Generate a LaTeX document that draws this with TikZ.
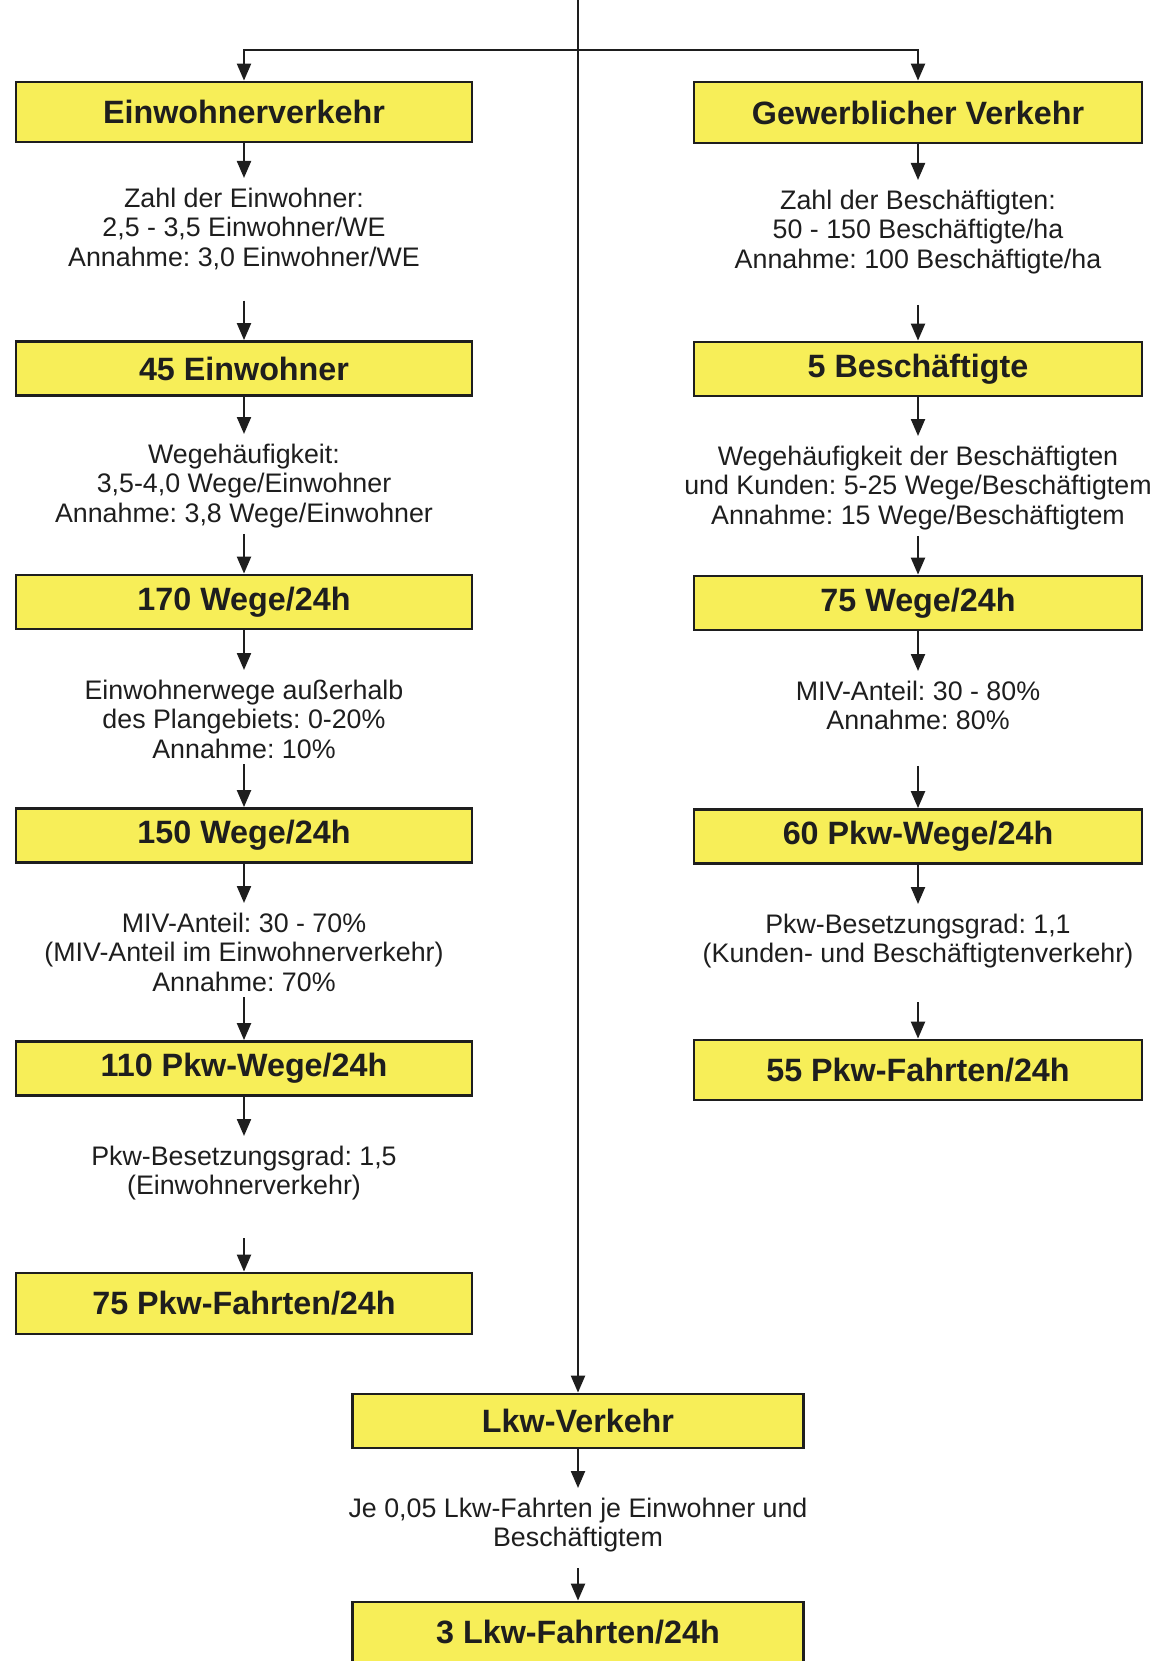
\documentclass[tikz,border=0pt]{standalone}
\usepackage{fontspec}
\setmainfont{Liberation Sans}
\usepackage{tikz}
\usetikzlibrary{arrows.meta}
\definecolor{gelb}{RGB}{247,238,88}
\definecolor{tinte}{RGB}{30,30,30}
\frenchspacing

\begin{document}
\begin{tikzpicture}
[x=1pt,y=-1pt]
\tikzset{
	kasten/.style = {draw=tinte, fill=gelb, line width=2.8pt, minimum height=54pt, inner sep=0,
		text=tinte, font=\fontsize{32.3}{36}\selectfont\bfseries},
	links/.style = {minimum width=456pt},
	rechts/.style = {minimum width=448pt},
	mitte/.style = {minimum width=451pt},
	info/.style = {align=center, anchor=north, inner sep=0, text=tinte,
		font=\fontsize{26.8}{29.7}\selectfont},
	pfeil/.style = {draw=tinte, line width=2.2pt, -{Triangle[length=17pt,width=14pt]}},
	hin/.style = {shorten >=9.5pt}
}
\useasboundingbox (0,0) rectangle (1159,1661);

\coordinate (oben) at (578,0);
\coordinate (knoten) at (578,50);

% Einwohnerverkehr
\node (ew) [kasten, links, minimum height=60pt] at (244,112) {Einwohnerverkehr};
\node (ew-1) [info] at (244,187.5) {Zahl der Einwohner:\\2,5 - 3,5 Einwohner/WE\\Annahme: 3,0 Einwohner/WE};
\node (ew-2) [kasten, links] at (244,368.5) {45 Einwohner};
\node (ew-3) [info] at (244,443.5) {Wegehäufigkeit:\\3,5-4,0 Wege/Einwohner\\Annahme: 3,8 Wege/Einwohner};
\node (ew-4) [kasten, links] at (244,602) {170 Wege/24h};
\node (ew-5) [info] at (244,679.5) {Einwohnerwege außerhalb\\des Plangebiets: 0-20\%\\Annahme: 10\%};
\node (ew-6) [kasten, links] at (244,835.5) {150 Wege/24h};
\node (ew-7) [info] at (244,912.5) {MIV-Anteil: 30 - 70\%\\(MIV-Anteil im Einwohnerverkehr)\\Annahme: 70\%};
\node (ew-8) [kasten, links] at (244,1068.5) {110 Pkw-Wege/24h};
\node (ew-9) [info] at (244,1145.5) {Pkw-Besetzungsgrad: 1,5\\(Einwohnerverkehr)};
\node (ew-10) [kasten, links, minimum height=61pt] at (244,1303.5) {75 Pkw-Fahrten/24h};

% Gewerblicher Verkehr
\node (gv) [kasten, rechts, minimum height=61pt] at (918,112.5) {Gewerblicher Verkehr};
\node (gv-1) [info] at (918,189.5) {Zahl der Beschäftigten:\\50 - 150 Beschäftigte/ha\\Annahme: 100 Beschäftigte/ha};
\node (gv-2) [kasten, rechts] at (918,369) {5 Beschäftigte};
\node (gv-3) [info] at (918,445.5) {Wegehäufigkeit der Beschäftigten\\und Kunden: 5-25 Wege/Beschäftigtem\\Annahme: 15 Wege/Beschäftigtem};
\node (gv-4) [kasten, rechts] at (918,603) {75 Wege/24h};
\node (gv-5) [info] at (918,680.5) {MIV-Anteil: 30 - 80\%\\Annahme: 80\%};
\node (gv-6) [kasten, rechts] at (918,836.5) {60 Pkw-Wege/24h};
\node (gv-7) [info] at (918,913.5) {Pkw-Besetzungsgrad: 1,1\\(Kunden- und Beschäftigtenverkehr)};
\node (gv-8) [kasten, rechts, minimum height=60pt] at (918,1070) {55 Pkw-Fahrten/24h};

% Lkw-Verkehr
\node (lkw) [kasten, mitte] at (578,1421) {Lkw-Verkehr};
\node (lkw-1) [info] at (578,1497.5) {Je 0,05 Lkw-Fahrten je Einwohner und\\Beschäftigtem};
\node (lkw-2) [kasten, mitte, minimum height=60pt] at (578,1632) {3 Lkw-Fahrten/24h};

\draw [pfeil] (knoten) -| (ew);
\draw [pfeil] (knoten) -| (gv);
\draw [pfeil] (oben) -- (lkw);

\draw [pfeil, hin] (ew) -- (ew-1);
\draw [pfeil, shorten <=30.5pt] (ew-1) -- (ew-2);
\draw [pfeil, hin] (ew-2) -- (ew-3);
\draw [pfeil, shorten <=5.5pt] (ew-3) -- (ew-4);
\draw [pfeil, hin] (ew-4) -- (ew-5);
\draw [pfeil, shorten <=5.5pt] (ew-5) -- (ew-6);
\draw [pfeil, hin] (ew-6) -- (ew-7);
\draw [pfeil, shorten <=5.5pt] (ew-7) -- (ew-8);
\draw [pfeil, hin] (ew-8) -- (ew-9);
\draw [pfeil, shorten <=37.5pt] (ew-9) -- (ew-10);

\draw [pfeil, hin] (gv) -- (gv-1);
\draw [pfeil, shorten <=30.5pt] (gv-1) -- (gv-2);
\draw [pfeil, hin] (gv-2) -- (gv-3);
\draw [pfeil, shorten <=5.5pt] (gv-3) -- (gv-4);
\draw [pfeil, hin] (gv-4) -- (gv-5);
\draw [pfeil, shorten <=35.5pt] (gv-5) -- (gv-6);
\draw [pfeil, hin] (gv-6) -- (gv-7);
\draw [pfeil, shorten <=33.5pt] (gv-7) -- (gv-8);

\draw [pfeil, hin] (lkw) -- (lkw-1);
\draw [pfeil, shorten <=15.5pt] (lkw-1) -- (lkw-2);
\end{tikzpicture}
\end{document}
